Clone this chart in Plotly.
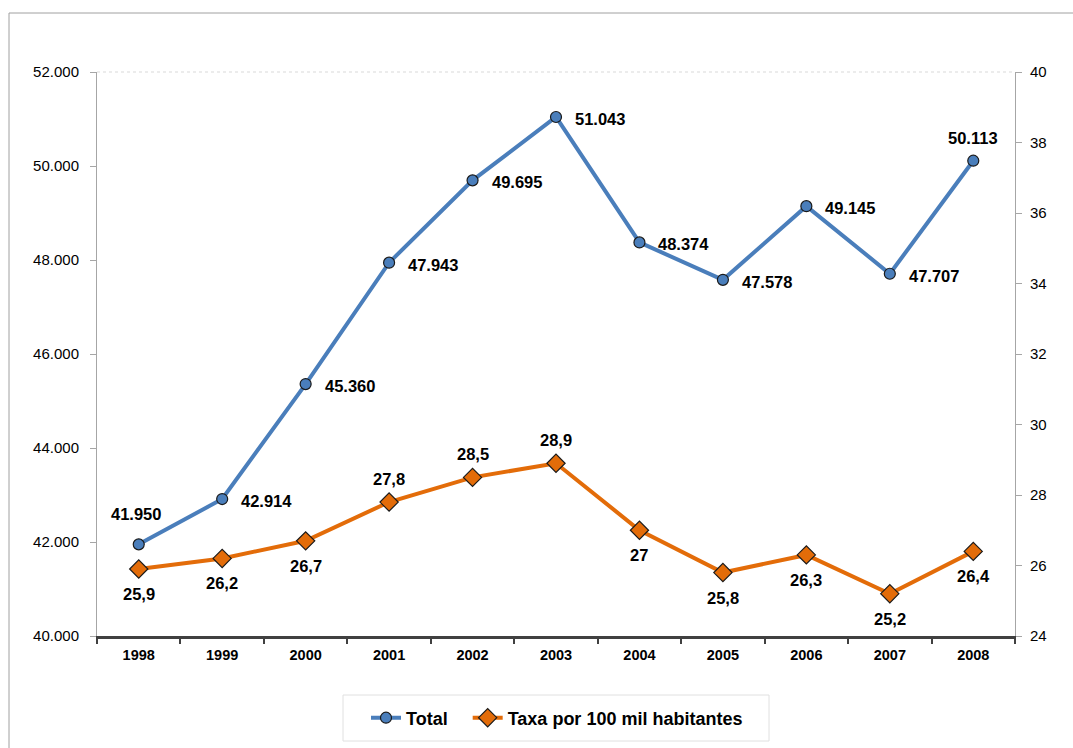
import plotly.graph_objects as go

years = ["1998", "1999", "2000", "2001", "2002", "2003", "2004", "2005", "2006", "2007", "2008"]
total = [41950, 42914, 45360, 47943, 49695, 51043, 48374, 47578, 49145, 47707, 50113]
taxa = [25.9, 26.2, 26.7, 27.8, 28.5, 28.9, 27.0, 25.8, 26.3, 25.2, 26.4]

BLUE = "#4A7EBB"
ORANGE = "#E36C09"
FONT = "Liberation Sans, Arial, sans-serif"

W, H = 1073, 748
L, R, T, B = 97, 58, 72, 112
PW, PH = W - L - R, H - T - B


def px_x(p):
    return (p - L) / PW


def px_y(p):
    return (H - B - p) / PH


def fmt_total(v):
    return f"{v:,.0f}".replace(",", ".")


def fmt_taxa(v):
    s = f"{v:.1f}"
    if s.endswith(".0"):
        s = s[:-2]
    return s.replace(".", ",")


fig = go.Figure()
fig.add_trace(go.Scatter(
    x=years, y=total, name="<b>Total</b>   ", mode="lines+markers",
    line=dict(color=BLUE, width=4),
    marker=dict(symbol="circle", size=11, color=BLUE, line=dict(color="#1a1a1a", width=1.2)),
    yaxis="y",
))
fig.add_trace(go.Scatter(
    x=years, y=taxa, name="<b>Taxa por 100 mil habitantes</b>", mode="lines+markers",
    line=dict(color=ORANGE, width=4),
    marker=dict(symbol="diamond", size=14, color=ORANGE, line=dict(color="#1a1a1a", width=1.2)),
    yaxis="y2",
))

annotations = []
label_font = dict(family=FONT, size=16.5, color="#000000")
n = len(years)
for i, v in enumerate(total):
    txt = "<b>%s</b>" % fmt_total(v)
    if i == 0:
        annotations.append(dict(x=i, y=v, xref="x", yref="y", text=txt, showarrow=False,
                                xanchor="center", yanchor="middle", yshift=30, xshift=-3, font=label_font))
    elif i == n - 1:
        annotations.append(dict(x=i, y=v, xref="x", yref="y", text=txt, showarrow=False,
                                xanchor="center", yanchor="middle", yshift=23, font=label_font))
    else:
        annotations.append(dict(x=i, y=v, xref="x", yref="y", text=txt, showarrow=False,
                                xanchor="left", yanchor="middle", xshift=17, yshift=-2, font=label_font))

above = {"2001", "2002", "2003"}
for i, (yr, v) in enumerate(zip(years, taxa)):
    ys = 23 if yr in above else -25
    annotations.append(dict(x=i, y=v, xref="x", yref="y2", text="<b>%s</b>" % fmt_taxa(v), showarrow=False,
                            xanchor="center", yanchor="middle", yshift=ys, font=label_font))

fig.update_layout(
    width=W, height=H,
    margin=dict(l=L, r=R, t=T, b=B),
    paper_bgcolor="white", plot_bgcolor="white",
    separators=",.",
    font=dict(family=FONT, size=15, color="#000000"),
    showlegend=True,
    legend=dict(orientation="h", x=px_x(366), xanchor="left", y=px_y(718), yanchor="middle",
                borderwidth=0, bgcolor="rgba(0,0,0,0)",
                font=dict(family=FONT, size=18, color="#000000"),
                itemwidth=30, tracegroupgap=0),
    xaxis=dict(type="category", range=[-0.5, 10.5], showgrid=False, zeroline=False,
               showline=True, linecolor="#404040", linewidth=3,
               ticks="outside", ticklen=5, tickwidth=2, tickcolor="#404040",
               tickson="boundaries", ticklabelstandoff=4,
               tickfont=dict(family=FONT, size=14.5, color="#000000", weight="bold")),
    yaxis=dict(range=[40000, 52000], dtick=2000, tickformat=",.0f", showgrid=False, zeroline=False,
               showline=True, linecolor="#a6a6a6", linewidth=1,
               ticks="outside", ticklen=6, tickcolor="#a6a6a6", ticklabelstandoff=8,
               tickfont=dict(family=FONT, size=15, color="#000000")),
    yaxis2=dict(range=[24, 40], dtick=2, overlaying="y", side="right", showgrid=False, zeroline=False,
                showline=True, linecolor="#a6a6a6", linewidth=1,
                ticks="outside", ticklen=6, tickcolor="#a6a6a6", ticklabelstandoff=5,
                tickfont=dict(family=FONT, size=15, color="#000000")),
    annotations=annotations,
    shapes=[
        dict(type="line", xref="paper", yref="paper", x0=0, x1=1, y0=1, y1=1,
             line=dict(color="#d9d9d9", width=1, dash="dot")),
        dict(type="rect", xref="paper", yref="paper", x0=px_x(9), x1=1.2, y0=-0.4, y1=px_y(13),
             line=dict(color="#a0a0a0", width=1), layer="below"),
        dict(type="rect", xref="paper", yref="paper", x0=px_x(343), x1=px_x(769),
             y0=px_y(741), y1=px_y(695),
             line=dict(color="#e0e0e0", width=1), layer="below"),
    ],
)

fig.write_html("out.html")
